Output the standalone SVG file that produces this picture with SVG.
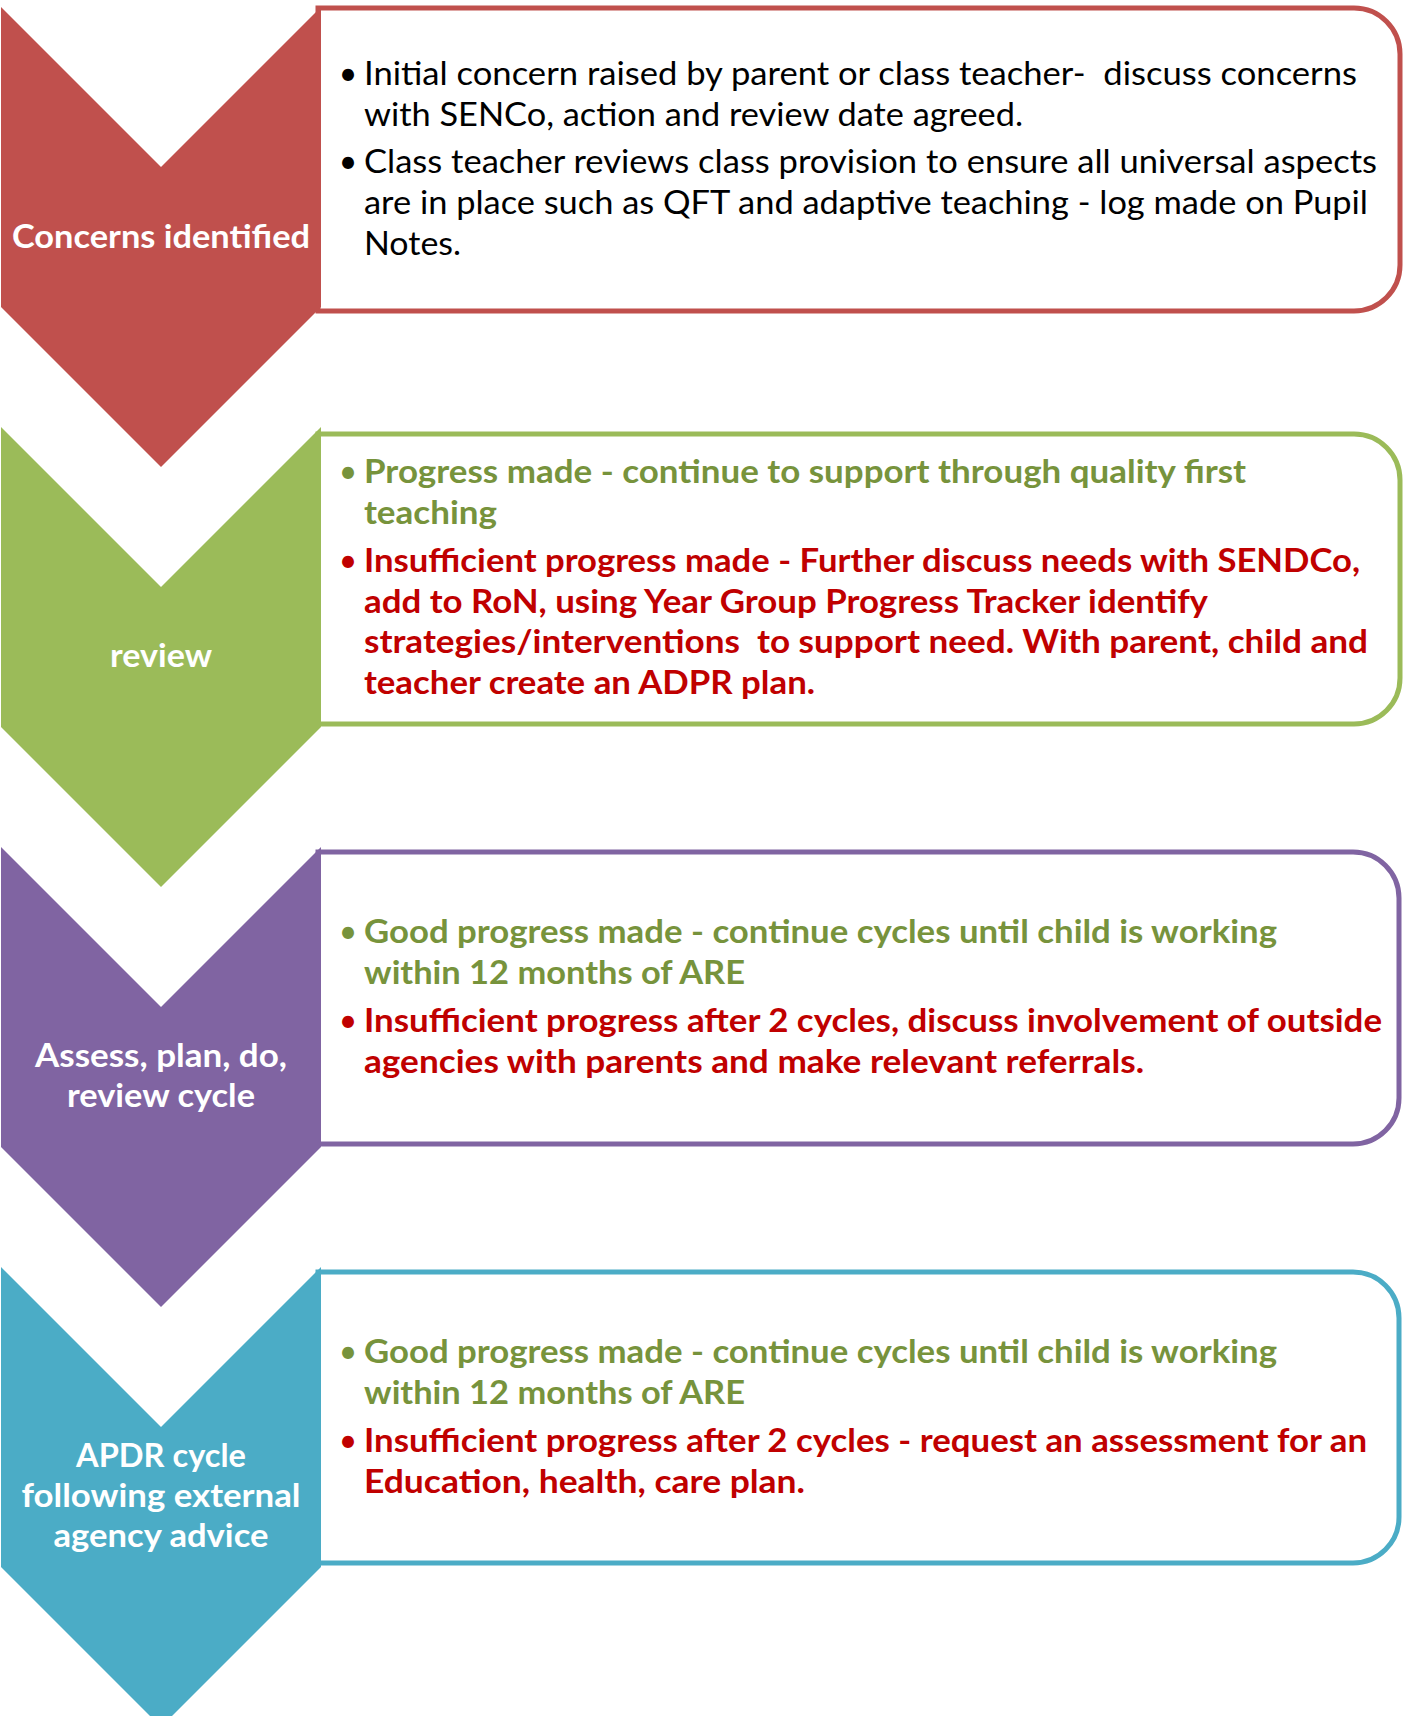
<svg xmlns="http://www.w3.org/2000/svg" width="1408" height="1716" viewBox="0 0 1408 1716">
<style>
.box{fill:#fff;stroke-width:5}
.lbl{font-family:Lato,"Open Sans","Liberation Sans",sans-serif;font-weight:bold;font-size:33px;fill:#fff;text-anchor:middle}
.t{font-family:Lato,"Open Sans","Liberation Sans",sans-serif;font-size:32px;white-space:pre}
.b{font-weight:bold}
.k{fill:#000}
.g{fill:#77933C}
.r{fill:#C00000}
.bul{font-family:Lato,"Open Sans","Liberation Sans",sans-serif;font-size:32px;text-anchor:middle}
</style>
<rect width="1408" height="1716" fill="#fff"/>
<g id="connectors"/>

<g id="node-concerns">
<path class="box" stroke="#C0504D" d="M318,8 H1354 A46,46 0 0 1 1400,54 V265 A46,46 0 0 1 1354,311 H318 Z"/>
<polygon fill="#C0504D" points="1,7 161,167 321,7 321,307 161,467 1,307"/>
<text class="lbl" x="161" y="248" textLength="298" lengthAdjust="spacingAndGlyphs">Concerns identified</text>
<text class="bul k" x="348" y="85">•</text>
<text class="t k" x="364" y="85" textLength="993" lengthAdjust="spacingAndGlyphs" xml:space="preserve">Initial concern raised by parent or class teacher-  discuss concerns</text>
<text class="t k" x="364" y="126" textLength="659" lengthAdjust="spacingAndGlyphs">with SENCo, action and review date agreed.</text>
<text class="bul k" x="348" y="173">•</text>
<text class="t k" x="364" y="173" textLength="1013" lengthAdjust="spacingAndGlyphs">Class teacher reviews class provision to ensure all universal aspects</text>
<text class="t k" x="364" y="214" textLength="1004" lengthAdjust="spacingAndGlyphs">are in place such as QFT and adaptive teaching - log made on Pupil</text>
<text class="t k" x="364" y="255" textLength="97" lengthAdjust="spacingAndGlyphs">Notes.</text>
</g>

<g id="node-review">
<path class="box" stroke="#9BBB59" d="M318,434 H1354 A46,46 0 0 1 1400,480 V678 A46,46 0 0 1 1354,724 H318 Z"/>
<polygon fill="#9BBB59" points="1,427 161,587 321,427 321,727 161,887 1,727"/>
<text class="lbl" x="161" y="667" textLength="102" lengthAdjust="spacingAndGlyphs">review</text>
<text class="bul g" x="348" y="483">•</text>
<text class="t b g" x="364" y="483" textLength="882" lengthAdjust="spacingAndGlyphs">Progress made - continue to support through quality first</text>
<text class="t b g" x="364" y="524" textLength="133" lengthAdjust="spacingAndGlyphs">teaching</text>
<text class="bul r" x="348" y="572">•</text>
<text class="t b r" x="364" y="572" textLength="996" lengthAdjust="spacingAndGlyphs">Insufficient progress made - Further discuss needs with SENDCo,</text>
<text class="t b r" x="364" y="613" textLength="844" lengthAdjust="spacingAndGlyphs">add to RoN, using Year Group Progress Tracker identify</text>
<text class="t b r" x="364" y="653" textLength="1004" lengthAdjust="spacingAndGlyphs" xml:space="preserve">strategies/interventions  to support need. With parent, child and</text>
<text class="t b r" x="364" y="694" textLength="451" lengthAdjust="spacingAndGlyphs">teacher create an ADPR plan.</text>
</g>

<g id="node-assess">
<path class="box" stroke="#8064A2" d="M318,852 H1353 A46,46 0 0 1 1399,898 V1098 A46,46 0 0 1 1353,1144 H318 Z"/>
<polygon fill="#8064A2" points="1,847 161,1007 321,847 321,1147 161,1307 1,1147"/>
<text class="lbl" x="161" y="1067" textLength="252" lengthAdjust="spacingAndGlyphs">Assess, plan, do,</text>
<text class="lbl" x="161" y="1107" textLength="188" lengthAdjust="spacingAndGlyphs">review cycle</text>
<text class="bul g" x="348" y="943">•</text>
<text class="t b g" x="364" y="943" textLength="913" lengthAdjust="spacingAndGlyphs">Good progress made - continue cycles until child is working</text>
<text class="t b g" x="364" y="984" textLength="381" lengthAdjust="spacingAndGlyphs">within 12 months of ARE</text>
<text class="bul r" x="348" y="1032">•</text>
<text class="t b r" x="364" y="1032" textLength="1018" lengthAdjust="spacingAndGlyphs">Insufficient progress after 2 cycles, discuss involvement of outside</text>
<text class="t b r" x="364" y="1073" textLength="780" lengthAdjust="spacingAndGlyphs">agencies with parents and make relevant referrals.</text>
</g>

<g id="node-apdr">
<path class="box" stroke="#4BACC6" d="M318,1272 H1353 A46,46 0 0 1 1399,1318 V1517 A46,46 0 0 1 1353,1563 H318 Z"/>
<polygon fill="#4BACC6" points="1,1267 161,1427 321,1267 321,1567 161,1727 1,1567"/>
<text class="lbl" x="161" y="1467" textLength="170" lengthAdjust="spacingAndGlyphs">APDR cycle</text>
<text class="lbl" x="161" y="1507" textLength="279" lengthAdjust="spacingAndGlyphs">following external</text>
<text class="lbl" x="161" y="1547" textLength="215" lengthAdjust="spacingAndGlyphs">agency advice</text>
<text class="bul g" x="348" y="1363">•</text>
<text class="t b g" x="364" y="1363" textLength="913" lengthAdjust="spacingAndGlyphs">Good progress made - continue cycles until child is working</text>
<text class="t b g" x="364" y="1404" textLength="381" lengthAdjust="spacingAndGlyphs">within 12 months of ARE</text>
<text class="bul r" x="348" y="1452">•</text>
<text class="t b r" x="364" y="1452" textLength="1003" lengthAdjust="spacingAndGlyphs">Insufficient progress after 2 cycles - request an assessment for an</text>
<text class="t b r" x="364" y="1493" textLength="441" lengthAdjust="spacingAndGlyphs">Education, health, care plan.</text>
</g>
</svg>
